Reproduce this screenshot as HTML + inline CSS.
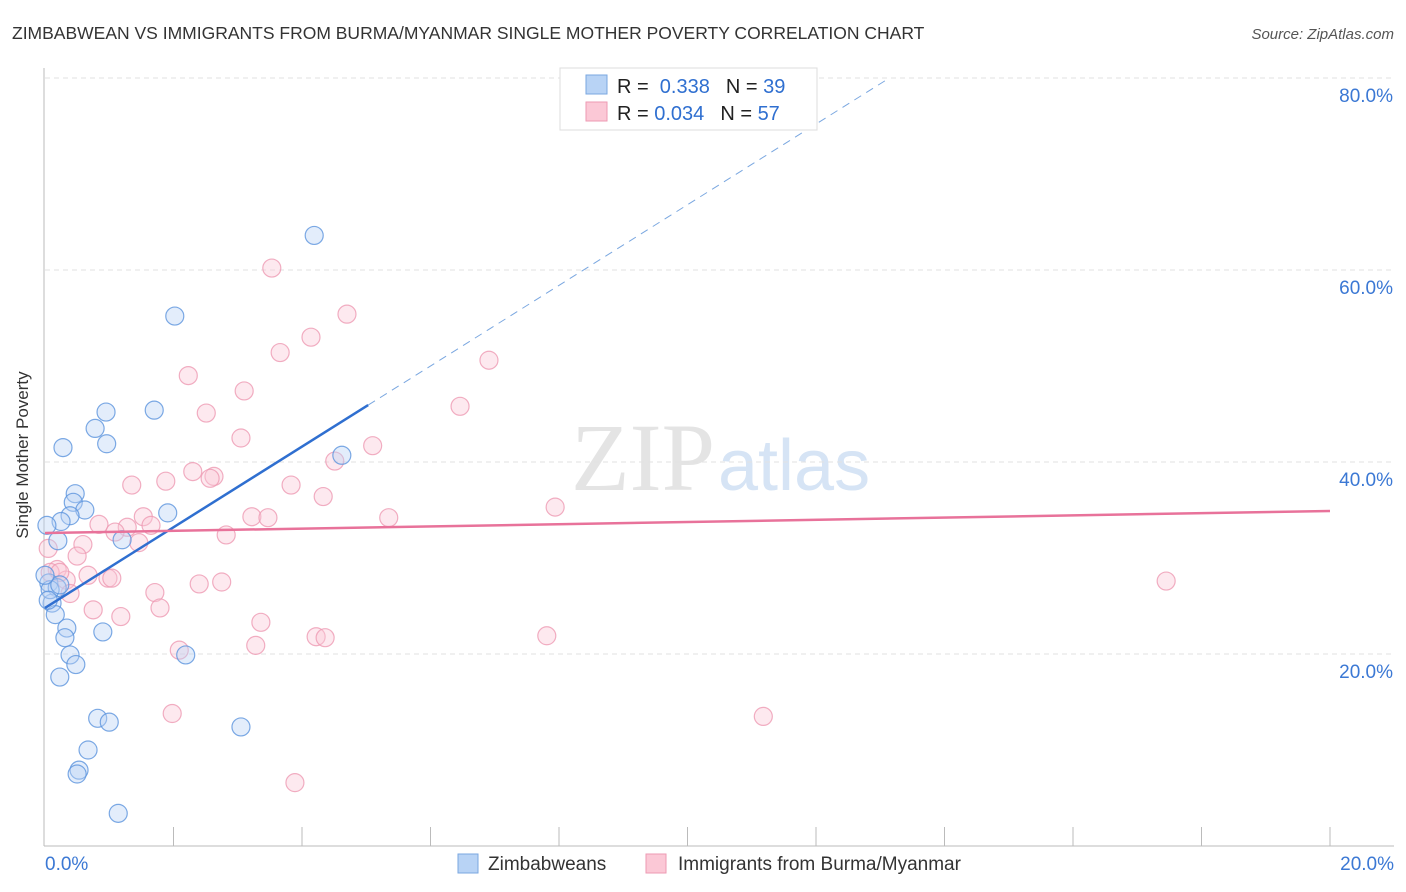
<!DOCTYPE html>
<html><head><meta charset="utf-8"><style>
body{margin:0;background:#fff;font-family:"Liberation Sans",sans-serif}
svg{display:block}
</style></head><body>
<svg id="chart" width="1406" height="892" xmlns="http://www.w3.org/2000/svg">
<text x="12" y="39" font-size="17.5" fill="#333">ZIMBABWEAN VS IMMIGRANTS FROM BURMA/MYANMAR SINGLE MOTHER POVERTY CORRELATION CHART</text>
<text x="1394" y="39" font-size="15" fill="#555" font-style="italic" text-anchor="end">Source: ZipAtlas.com</text>
<text x="715" y="490" font-size="96" fill="#e4e4e4" text-anchor="end" font-family="Liberation Serif">ZIP</text>
<text x="718" y="490" font-size="72" fill="#d6e4f5">atlas</text>
<g id="grid"></g>
<g id="axes"></g>
<g id="pts"></g>
<g id="lines"></g>
<text x="28" y="455" font-size="17" fill="#333" text-anchor="middle" transform="rotate(-90 28 455)">Single Mother Poverty</text>
<g>
<rect x="560" y="68" width="257" height="62" fill="#fff" stroke="#ddd"/>
<rect x="586" y="75" width="21" height="19" fill="#b8d3f5" stroke="#7aa7e0"/>
<rect x="586" y="102" width="21" height="19" fill="#fbc8d6" stroke="#ee9ab3"/>
<text x="617" y="93" font-size="20" fill="#222">R = <tspan fill="#2f6fd0">&#160;0.338</tspan><tspan dx="16" fill="#222">N = </tspan><tspan fill="#2f6fd0">39</tspan></text>
<text x="617" y="120" font-size="20" fill="#222">R = <tspan fill="#2f6fd0">0.034</tspan><tspan dx="16" fill="#222">N = </tspan><tspan fill="#2f6fd0">57</tspan></text>
</g>
<g>
<rect x="458" y="854" width="20" height="19" fill="#b8d3f5" stroke="#7aa7e0"/>
<text x="488" y="870" font-size="19" fill="#333">Zimbabweans</text>
<rect x="646" y="854" width="20" height="19" fill="#fbc8d6" stroke="#ee9ab3"/>
<text x="678" y="870" font-size="19" fill="#333">Immigrants from Burma/Myanmar</text>
</g>
</svg>
<script>
const blueX=[4.19,2.02,1.70,0.95,0.78,0.28,0.96,4.62,0.47,0.44,0.62,0.39,0.25,1.91,0.20,1.20,0.03,0.06,0.19,0.11,0.16,0.34,0.31,0.90,0.39,0.48,0.23,2.19,0.82,1.00,3.05,0.67,0.53,0.50,1.14,0.08,0.05,0.23,0.0];
const blueY=[63.6,55.2,45.4,45.2,43.5,41.5,41.9,40.7,36.7,35.8,35.0,34.4,33.8,34.7,31.8,31.9,33.4,27.4,26.9,25.3,24.1,22.7,21.7,22.3,19.9,18.9,17.6,19.9,13.3,12.9,12.4,10.0,7.9,7.5,3.4,26.7,25.6,27.2,28.2];
const pinkX=[3.53,4.70,3.66,4.14,6.91,2.23,3.10,2.51,6.46,3.05,5.10,4.51,2.30,1.88,2.63,2.57,1.35,3.83,4.33,7.94,3.22,3.47,5.35,1.53,0.84,1.28,1.65,1.09,2.82,0.59,1.46,0.50,0.05,0.19,0.33,0.98,1.04,0.67,0.39,1.71,2.75,2.40,1.79,0.75,1.18,3.36,4.22,4.36,7.81,2.09,3.28,1.98,11.18,3.89,17.45,0.08,0.23];
const pinkY=[60.2,55.4,51.4,53.0,50.6,49.0,47.4,45.1,45.8,42.5,41.7,40.1,39.0,38.0,38.5,38.3,37.6,37.6,36.4,35.3,34.3,34.2,34.2,34.3,33.5,33.2,33.4,32.7,32.4,31.4,31.6,30.2,31.0,28.8,27.7,27.9,27.9,28.2,26.3,26.4,27.5,27.3,24.8,24.6,23.9,23.3,21.8,21.7,21.9,20.4,20.9,13.8,13.5,6.6,27.6,28.5,28.5];
const yTicks=[20,40,60,80];
const yTickLabels=["20.0%","40.0%","60.0%","80.0%"];
const xTickLabels=["0.0%","20.0%"];
const blueTrend=[24.8,4.2];
const blueSolidEnd=5.03, blueDashEnd=13.15;
const pinkTrend=[32.6,0.115];
const NS="http://www.w3.org/2000/svg";
const sx=v=>45+v*64.25, sy=v=>846-v*9.6;
function mk(t,a,p){const e=document.createElementNS(NS,t);for(const k in a)e.setAttribute(k,a[k]);p.appendChild(e);return e;}
const grid=document.getElementById('grid'),axes=document.getElementById('axes'),pts=document.getElementById('pts'),lines=document.getElementById('lines');
yTicks.forEach((t,i)=>{
 const l=mk('line',{x1:45,x2:1394,y1:sy(t),y2:sy(t),stroke:'#e2e2e2','stroke-dasharray':'5,4'},grid);
 
 
 const tx=mk('text',{x:1393,y:sy(t)+24,'font-size':19,fill:'#3b78d4','text-anchor':'end'},axes);
 tx.textContent=yTickLabels[i];
 
 
});
const ax=mk('line',{x1:44,x2:44,y1:68,y2:846,stroke:'#bbb'},axes);


const bx=mk('line',{x1:44,x2:1394,y1:846,y2:846,stroke:'#bbb'},axes);


for(let i=1;i<=10;i++){const t=mk('line',{x1:sx(i*2),x2:sx(i*2),y1:827,y2:846,stroke:'#bbb'},axes);
 
 }
[[0,'start',45],[20,'end',1394]].forEach((d,i)=>{const t=mk('text',{x:d[2],y:870,'font-size':19,fill:'#3b78d4','text-anchor':d[1]},axes);t.textContent=xTickLabels[i];
 
 });
function dots(X,Y,fill,stroke,name){X.forEach((x,i)=>{const c=mk('circle',{cx:sx(x),cy:sy(Y[i]),r:9,fill:fill,'fill-opacity':0.4,stroke:stroke,'stroke-opacity':0.8,'stroke-width':1.2},pts);
 
 });}
dots(pinkX,pinkY,'#fbc8d6','#ee9ab3','burma-point');
dots(blueX,blueY,'#b8d3f5','#5b93dd','zimbabwean-point');
const bl=mk('line',{x1:sx(0),y1:sy(blueTrend[0]),x2:sx(blueSolidEnd),y2:sy(blueTrend[0]+blueTrend[1]*blueSolidEnd),stroke:'#2f6fd0','stroke-width':2.5},lines);


const bd=mk('line',{x1:sx(blueSolidEnd),y1:sy(blueTrend[0]+blueTrend[1]*blueSolidEnd),x2:sx(blueDashEnd),y2:sy(blueTrend[0]+blueTrend[1]*blueDashEnd),stroke:'#7aa7e0','stroke-width':1,'stroke-dasharray':'8,6'},lines);


const pl=mk('line',{x1:sx(0),y1:sy(pinkTrend[0]),x2:sx(20),y2:sy(pinkTrend[0]+pinkTrend[1]*20),stroke:'#e8729a','stroke-width':2.5},lines);


</script>
</body></html>
